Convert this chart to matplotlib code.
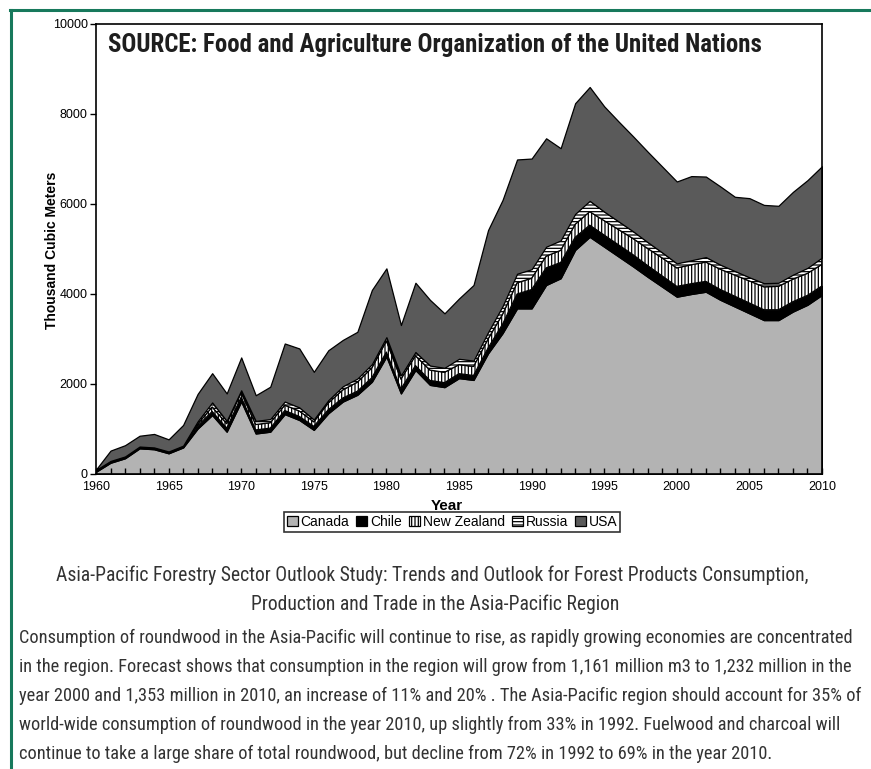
"""Stacked area chart: roundwood exports to Asia-Pacific by supplier, 1960-2010."""

import matplotlib

matplotlib.use("Agg")
import matplotlib.pyplot as plt
from matplotlib import font_manager
from matplotlib.lines import Line2D

years = list(range(1960, 2011))

# thousand cubic meters
canada = [50, 250, 350, 570, 550, 460, 590, 1010, 1310, 940,
          1610, 900, 940, 1330, 1200, 980, 1350, 1610, 1760, 2050,
          2610, 1790, 2310, 1980, 1930, 2130, 2090, 2680, 3130, 3680,
          3680, 4200, 4350, 4980, 5270, 5050, 4830, 4610, 4380, 4160,
          3940, 4000, 4050, 3870, 3720, 3570, 3420, 3420, 3610, 3760,
          3980]
chile = [20, 20, 20, 20, 20, 20, 20, 60, 80, 80,
         100, 80, 80, 80, 80, 80, 80, 80, 80, 90,
         100, 100, 100, 100, 100, 100, 100, 120, 200, 320,
         420, 380, 350, 280, 260, 260, 260, 260, 250, 240,
         230, 230, 230, 230, 230, 230, 230, 230, 220, 210,
         200]
new_zealand = [10, 10, 10, 10, 10, 10, 10, 40, 100, 100,
               100, 120, 120, 120, 120, 100, 150, 180, 200, 220,
               250, 220, 220, 230, 230, 200, 200, 200, 220, 250,
               250, 260, 270, 290, 300, 320, 340, 360, 380, 400,
               410, 420, 430, 450, 470, 490, 510, 520, 500, 490,
               480]
russia = [10, 10, 10, 10, 10, 10, 10, 60, 100, 60,
          50, 80, 80, 80, 80, 50, 60, 80, 80, 80,
          80, 80, 80, 100, 100, 130, 130, 150, 180, 200,
          200, 210, 220, 230, 240, 200, 180, 160, 140, 120,
          100, 100, 110, 100, 90, 80, 80, 80, 100, 120,
          150]
usa = [10, 230, 250, 240, 300, 270, 460, 610, 650, 610,
       730, 570, 720, 1290, 1310, 1060, 1110, 1030, 1040, 1650,
       1530, 1120, 1540, 1460, 1210, 1340, 1680, 2270, 2360, 2540,
       2460, 2410, 2050, 2460, 2530, 2340, 2220, 2110, 2010, 1910,
       1820, 1870, 1790, 1740, 1650, 1760, 1740, 1710, 1840, 1950,
       2030]
series_names = ["Canada", "Chile", "New Zealand", "Russia", "USA"]

title = "SOURCE: Food and Agriculture Organization of the United Nations"
caption = [
    "Asia-Pacific Forestry Sector Outlook Study: Trends and Outlook for Forest Products Consumption,",
    "Production and Trade in the Asia-Pacific Region",
]
paragraph = [
    "Consumption of roundwood in the Asia-Pacific will continue to rise, as rapidly growing economies are concentrated",
    "in the region. Forecast shows that consumption in the region will grow from 1,161 million m3 to 1,232 million in the",
    "year 2000 and 1,353 million in 2010, an increase of 11% and 20% . The Asia-Pacific region should account for 35% of",
    "world-wide consumption of roundwood in the year 2010, up slightly from 33% in 1992. Fuelwood and charcoal will",
    "continue to take a large share of total roundwood, but decline from 72% in 1992 to 69% in the year 2010.",
]
para_ends = [850, 852, 855, 818, 784]  # right edge of each line in the reference

W, H = 871, 769
installed = {f.name for f in font_manager.fontManager.ttflist}


def first_installed(*names):
    for n in names:
        if n in installed:
            return n
    return "DejaVu Sans"


narrow = first_installed("Roboto Condensed", "Liberation Sans Narrow", "Lato",
                         "Roboto", "Liberation Sans")
plain = first_installed("Liberation Sans", "Arial")
plt.rcParams["font.family"] = [plain, "DejaVu Sans"]
plt.rcParams["hatch.linewidth"] = 0.9

fig = plt.figure(figsize=(W / 100, H / 100), dpi=100)
ax = fig.add_axes([96 / W, 1 - 474 / H, (822 - 96) / W, (474 - 24) / H])

polys = ax.stackplot(
    years, canada, chile, new_zealand, russia, usa,
    labels=series_names,
    colors=["#b3b3b3", "#000000", "#ffffff", "#ffffff", "#5a5a5a"],
    edgecolor="black", linewidth=0.9,
)
polys[2].set_hatch("|||||")
polys[3].set_hatch("-----")

ax.set_xlim(1960, 2010)
ax.set_ylim(0, 10000)
ax.set_xticks(range(1960, 2011, 5))
ax.set_xticks(years, minor=True)
ax.set_yticks(range(0, 10001, 2000))
ax.tick_params(axis="x", which="both", direction="in", length=4, width=1,
               labelsize=9, pad=5)
ax.tick_params(axis="y", direction="out", length=4, width=1, labelsize=9, pad=2)
for s in ax.spines.values():
    s.set_linewidth(1.2)

fig.text(52 / W, 1 - 250 / H, "Thousand Cubic Meters", rotation=90,
         ha="center", va="center", fontsize=10, fontweight="bold")
fig.text(447 / W, 1 - 506 / H, "Year", ha="center", va="center",
         fontsize=11, fontweight="bold")

leg = fig.legend(
    handles=polys, labels=series_names, loc="center", ncol=5,
    bbox_to_anchor=(452 / W, 1 - 522 / H), fontsize=10, frameon=True,
    fancybox=False, edgecolor="black", handlelength=0.8, handleheight=0.8,
    handletextpad=0.2, columnspacing=0.5, borderpad=0.2, borderaxespad=0,
)
leg.get_frame().set_linewidth(1.2)

fig.canvas.draw()
renderer = fig.canvas.get_renderer()
text_kw = dict(family=[narrow, "DejaVu Sans"], color="#333333")


def fit_text(text, x0, x1, y, size, **kw):
    # scale the font size so the line spans x0..x1 pixels
    t = fig.text(x0 / W, 1 - y / H, text, ha="left", va="center",
                 fontsize=size, **kw)
    w = t.get_window_extent(renderer).width
    t.set_fontsize(size * (x1 - x0) / w)
    return t


fit_text(title, 108, 762, 45, 18, fontweight="bold",
         family=[narrow, "DejaVu Sans"], color="#1e1e1e")

cap = fit_text(caption[0], 56, 815, 575, 14, **text_kw)
fig.text(0.5 * (56 + 815) / W, 1 - 604 / H, caption[1], ha="center",
         va="center", fontsize=cap.get_fontsize(), **text_kw)

# one common size for the paragraph: the median fit, capped so no line
# runs past the right edge of the picture
lines, fits, caps = [], [], []
for i, line in enumerate(paragraph):
    t = fig.text(19 / W, 1 - (638 + 29 * i) / H, line, ha="left",
                 va="center", fontsize=12, **text_kw)
    w = t.get_window_extent(renderer).width
    fits.append((para_ends[i] - 19) / w)
    caps.append((862 - 19) / w)
    lines.append(t)
scale = min(sorted(fits)[len(fits) // 2], min(caps))
for t in lines:
    t.set_fontsize(12 * scale)

# green frame of the page box (top and left edges)
green = "#17795c"
fig.add_artist(Line2D([10 / W, 1], [1 - 9.5 / H, 1 - 9.5 / H], color=green,
                      linewidth=2.2, transform=fig.transFigure))
fig.add_artist(Line2D([10.5 / W, 10.5 / W], [0, 1 - 9.5 / H], color=green,
                      linewidth=2.2, transform=fig.transFigure))

fig.savefig("out.png", dpi=100)
